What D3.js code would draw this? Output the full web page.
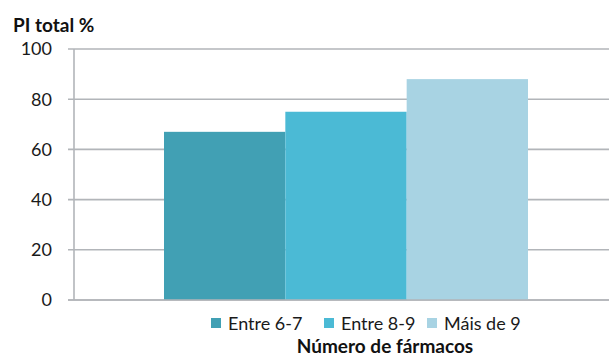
<!DOCTYPE html>
<html><head><meta charset="utf-8">
<script src="https://cdn.jsdelivr.net/npm/d3@7"></script>
<style>body{margin:0;background:#fff}svg{display:block}text{font-family:Lato,"Open Sans",sans-serif}</style>
</head><body>
<svg id="c" width="609" height="357"></svg>
<script>
const series = ["Entre 6-7", "Entre 8-9", "Máis de 9"];
const values = [67, 75, 88];
const colors = ["#41A0B4", "#4BBAD5", "#A8D3E3"];
const yTicks = [0, 20, 40, 60, 80, 100];
const yTitle = "PI total %";
const xTitle = "Número de fármacos";

(function () {
const svg = d3.select("#c");
const mLeft = 74, mRight = 618, mTop = 49, mBottom = 300;
const groupW = 364;
const y = d3.scaleLinear().domain([0, 100]).range([mBottom, mTop]);
const gx0 = mLeft + ((mRight - mLeft) - groupW) / 2;
const x = d3.scaleBand().domain(series).range([gx0, gx0 + groupW]).padding(0);

svg.append("g").selectAll("line").data(yTicks).join("line")
  .attr("x1", mLeft - 6).attr("x2", 609)
  .attr("y1", d => y(d)).attr("y2", d => y(d))
  .attr("stroke", "#B2B5B9").attr("stroke-width", 1.6);
svg.append("line").attr("x1", mLeft).attr("x2", mLeft).attr("y1", mTop).attr("y2", mBottom)
  .attr("stroke", "#B2B5B9").attr("stroke-width", 1.6);
svg.append("g").selectAll("text").data(yTicks).join("text")
  .attr("x", 52).attr("y", d => y(d)).attr("dy", "0.36em")
  .attr("text-anchor", "end").attr("font-size", 18).attr("fill", "#1a1a1a")
  .text(d => d);

svg.append("g").selectAll("rect").data(series).join("rect")
  .attr("x", d => x(d)).attr("width", x.bandwidth())
  .attr("y", (d, i) => y(values[i])).attr("height", (d, i) => mBottom - y(values[i]))
  .attr("fill", (d, i) => colors[i]);
svg.append("line").attr("x1", mLeft - 6).attr("x2", 609).attr("y1", y(0)).attr("y2", y(0))
  .attr("stroke", "#B2B5B9").attr("stroke-width", 1.6);

svg.append("text").attr("x", 13).attr("y", 32).attr("font-size", 19).attr("font-weight", "bold")
  .attr("fill", "#111").text(yTitle);
svg.append("text").attr("x", 385).attr("y", 353).attr("text-anchor", "middle")
  .attr("font-size", 19).attr("font-weight", "bold").attr("fill", "#111").text(xTitle);

const legX = [211, 324, 427];
const lg = svg.append("g").selectAll("g").data(series).join("g")
  .attr("transform", (d, i) => `translate(${legX[i]},330)`);
lg.append("rect").attr("x", 0).attr("y", -12).attr("width", 10).attr("height", 10)
  .attr("fill", (d, i) => colors[i]);
lg.append("text").attr("x", 17).attr("y", 0).attr("font-size", 18).attr("fill", "#1a1a1a").text(d => d);
})();
</script>
</body></html>
